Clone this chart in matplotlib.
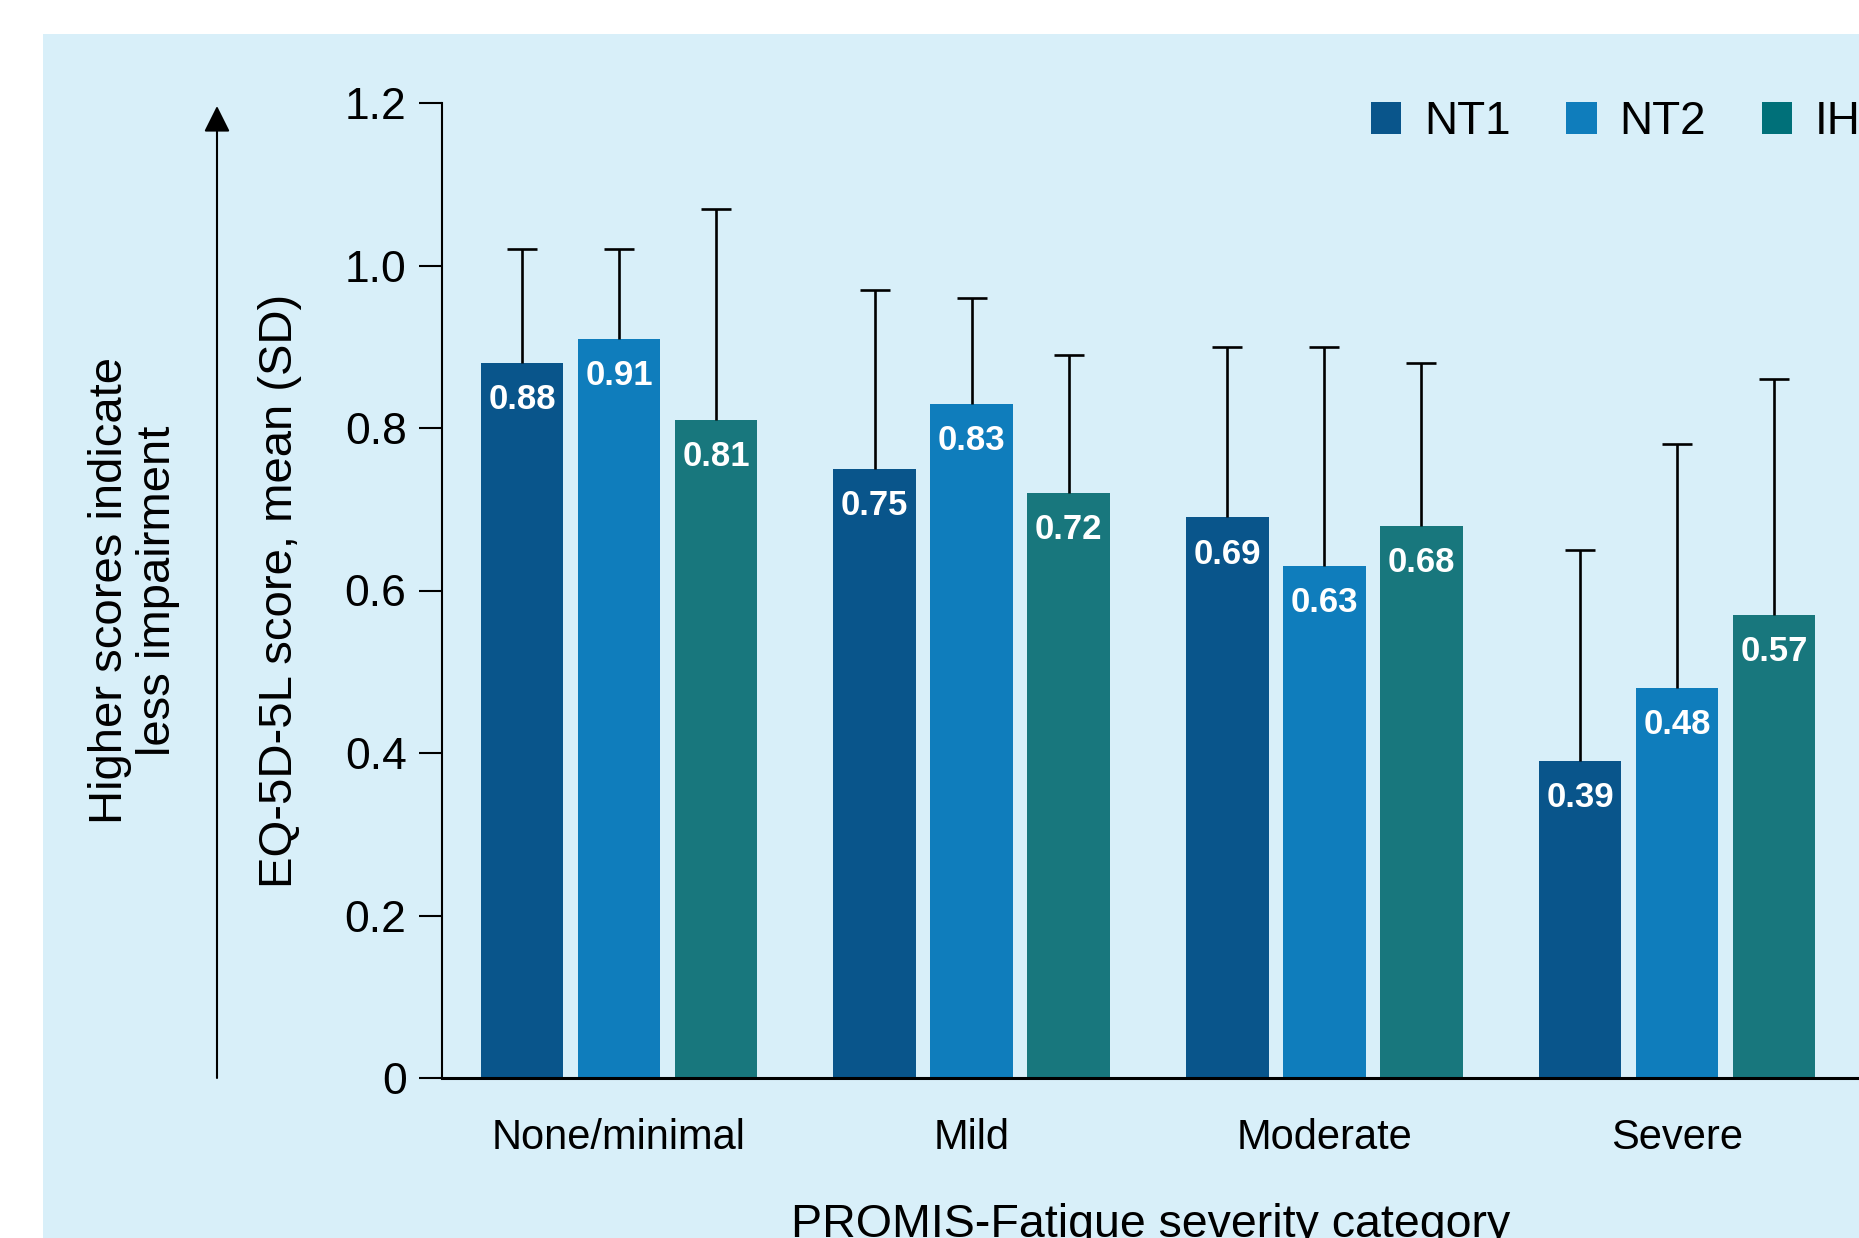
import matplotlib
matplotlib.use('Agg')
import matplotlib.pyplot as plt
from matplotlib.patches import Rectangle, Patch
import numpy as np

plt.rcParams['font.family'] = ['Liberation Sans', 'DejaVu Sans']

# data
categories = ['None/minimal', 'Mild', 'Moderate', 'Severe']
groups = ['NT1', 'NT2', 'IH']
nt1_mean = [0.88, 0.75, 0.69, 0.39]
nt2_mean = [0.91, 0.83, 0.63, 0.48]
ih_mean = [0.81, 0.72, 0.68, 0.57]
nt1_sd = [0.14, 0.22, 0.21, 0.26]
nt2_sd = [0.11, 0.13, 0.27, 0.30]
ih_sd = [0.26, 0.17, 0.20, 0.29]
yticks = [0, 0.2, 0.4, 0.6, 0.8, 1.0, 1.2]
ytick_labels = ['0', '0.2', '0.4', '0.6', '0.8', '1.0', '1.2']

colors = ['#09558B', '#0F7DBC', '#18777D']
legend_colors = ['#09558B', '#0F7DBC', '#007079']
panel = '#D8EFF9'

W, H = 1859, 1238
fig = plt.figure(figsize=(W / 100, H / 100), dpi=100, facecolor='white')

# light blue panel behind the chart
fig.add_artist(Rectangle((43 / W, 0), 1 - 43 / W, 1 - 34 / H,
                         transform=fig.transFigure, facecolor=panel,
                         edgecolor='none', zorder=0))

ax = fig.add_axes([442 / W, 1 - 1078 / H, 1 - 442 / W, 975 / H])
ax.set_facecolor('none')

x = np.arange(len(categories))
offset = 0.275
width = 0.235
series = [(nt1_mean, nt1_sd), (nt2_mean, nt2_sd), (ih_mean, ih_sd)]
for i, (means, sds) in enumerate(series):
    xs = x + (i - 1) * offset
    ax.bar(xs, means, width, color=colors[i], zorder=2)
    eb = ax.errorbar(xs, means, yerr=[np.zeros(len(sds)), sds], fmt='none',
                     ecolor='black', elinewidth=1.9, capsize=11,
                     capthick=1.9, zorder=3)
    # only the upper cap is shown
    for cap in eb[1]:
        if np.allclose(cap.get_ydata(), means):
            cap.set_visible(False)
    for xi, m in zip(xs, means):
        ax.annotate(f'{m:.2f}', (xi, m), xytext=(0, -26.5),
                    textcoords='offset points', ha='center', va='center',
                    color='white', fontweight='bold', fontsize=25, zorder=4)

ax.set_xlim(-0.502, 3.516)
ax.set_ylim(0, 1.2)
ax.set_yticks(yticks)
ax.set_yticklabels(ytick_labels)
ax.set_xticks(x)
ax.set_xticklabels(categories)
ax.tick_params(axis='y', length=16.5, width=1.5, pad=9, labelsize=32)
ax.tick_params(axis='x', length=0, pad=29, labelsize=30)
ax.spines['top'].set_visible(False)
ax.spines['right'].set_visible(False)
ax.spines['left'].set_linewidth(1.5)
ax.spines['bottom'].set_linewidth(2.2)

# y axis title and side note
ax.text((280 - 442) / (W - 442), 0.5, 'EQ-5D-5L score, mean (SD)',
        transform=ax.transAxes, rotation=90, ha='center', va='center',
        fontsize=34)
fig.text(134 / W, 1 - 591 / H, 'Higher scores indicate\nless impairment',
         rotation=90, ha='center', va='center', fontsize=34,
         multialignment='center', linespacing=1.1)
ax.annotate('', xy=(217, H - 106), xytext=(217, H - 1078),
            xycoords='figure pixels', textcoords='figure pixels',
            arrowprops=dict(arrowstyle='-|>,head_length=0.8,head_width=0.4',
                            mutation_scale=20, color='black', lw=1.5,
                            shrinkA=0, shrinkB=0))

fig.text(1151 / W, 1 - 1237 / H, 'PROMIS-Fatigue severity category',
         ha='center', va='baseline', fontsize=33.5)

handles = [Patch(facecolor=c, edgecolor='none') for c in legend_colors]
fig.legend(handles, groups, loc='center left',
           bbox_to_anchor=(1371 / W, 1 - 122 / H), ncol=3, frameon=False,
           fontsize=33, handlelength=0.655, handleheight=0.7,
           handletextpad=0.5, columnspacing=1.22, borderpad=0,
           borderaxespad=0)

fig.savefig('out.png', dpi=100, facecolor='white')
